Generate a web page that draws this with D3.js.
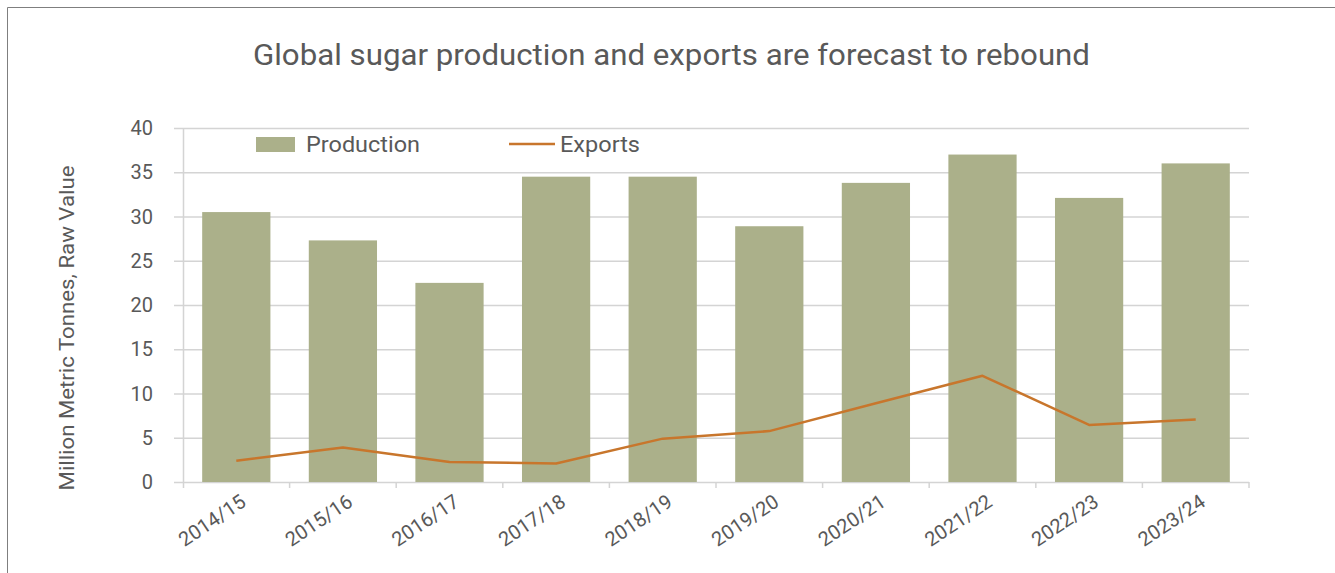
<!DOCTYPE html>
<html><head><meta charset="utf-8">
<script src="https://cdn.jsdelivr.net/npm/d3@7"></script>
<style>
html,body{margin:0;padding:0;background:#fff;}
svg{display:block;font-family:Roboto, "Noto Sans", sans-serif;}
</style></head>
<body>
<svg id="chart" width="1335" height="573"></svg>
<script>
const categories = ["2014/15","2015/16","2016/17","2017/18","2018/19","2019/20","2020/21","2021/22","2022/23","2023/24"];
const production = [30.5, 27.3, 22.5, 34.5, 34.5, 28.9, 33.8, 37.0, 32.1, 36.0];
const exportsVals = [2.4, 3.9, 2.25, 2.1, 4.9, 5.75, 8.9, 12.0, 6.45, 7.05];
const yTicks = [0,5,10,15,20,25,30,35,40];
const title = "Global sugar production and exports are forecast to rebound";
const yLabel = "Million Metric Tonnes, Raw Value";

(function(){
const svg = d3.select("#chart");
const textColor = "#595959";
const gridColor = "#D4D4D4";
const barColor = "#ABB08A";
const lineColor = "#C8762C";

// frame
svg.append("path").attr("d","M7.5,573 V7.5 H1335").attr("fill","none").attr("stroke","#7f7f7f").attr("stroke-width",1);

const pLeft = 183, pRight = 1249, pTop = 128, pBottom = 482;
const x = d3.scaleBand().domain(categories).range([pLeft, pRight]).paddingInner(0.36).paddingOuter(0.18);
const xb = d3.scaleBand().domain(categories).range([pLeft, pRight]);
const y = d3.scaleLinear().domain([0,40]).range([pBottom, pTop]);

// gridlines
svg.append("g").selectAll("line").data(yTicks).join("line")
  .attr("x1", pLeft-9).attr("x2", pRight)
  .attr("y1", d=>y(d)+0.5).attr("y2", d=>y(d)+0.5)
  .attr("stroke", gridColor).attr("stroke-width", 1.5);

// y axis line
svg.append("line").attr("x1",pLeft+0.5).attr("x2",pLeft+0.5).attr("y1",pTop).attr("y2",pBottom+6)
  .attr("stroke",gridColor).attr("stroke-width",1.5);

// x ticks
const tickXs = categories.slice(1).map(d=>xb(d)).concat([pRight]);
svg.append("g").selectAll("line").data(tickXs).join("line")
  .attr("x1", d=>d).attr("x2", d=>d)
  .attr("y1", pBottom).attr("y2", pBottom+6)
  .attr("stroke", gridColor).attr("stroke-width",1.5);

// y tick labels
svg.append("g").selectAll("text").data(yTicks).join("text")
  .attr("x", 153).attr("y", d=>y(d)).attr("dy","0.36em")
  .attr("text-anchor","end").attr("fill",textColor).attr("font-size",20)
  .text(d=>d);

// bars
svg.append("g").selectAll("rect").data(production).join("rect")
  .attr("x",(d,i)=>x(categories[i])).attr("width",x.bandwidth())
  .attr("y",d=>y(d)).attr("height",d=>pBottom-y(d))
  .attr("fill",barColor);

// line
const line = d3.line().x((d,i)=>xb(categories[i])+xb.bandwidth()/2).y(d=>y(d));
svg.append("path").datum(exportsVals).attr("d",line)
  .attr("fill","none").attr("stroke",lineColor).attr("stroke-width",2.5).attr("stroke-linejoin","round");

// x labels
svg.append("g").selectAll("text").data(categories).join("text")
  .attr("transform", d=>`translate(${xb(d)+xb.bandwidth()/2+3},${pBottom+11}) rotate(-34)`)
  .attr("text-anchor","end").attr("dy","0.72em").attr("fill",textColor).attr("font-size",20)
  .text(d=>d);

// title
svg.append("text").attr("x",671.5).attr("y",65).attr("text-anchor","middle")
  .attr("fill",textColor).attr("font-size",30).attr("font-weight",400)
  .attr("textLength",837).attr("lengthAdjust","spacingAndGlyphs").text(title);

// y label
svg.append("text").attr("transform","translate(74,328) rotate(-90)")
  .attr("text-anchor","middle").attr("fill",textColor).attr("font-size",21)
  .attr("textLength",325).attr("lengthAdjust","spacingAndGlyphs").text(yLabel);

// legend
svg.append("rect").attr("x",256).attr("y",137).attr("width",39).attr("height",15).attr("fill",barColor);
svg.append("text").attr("x",306).attr("y",152).attr("fill",textColor).attr("font-size",22)
  .attr("textLength",114).attr("lengthAdjust","spacingAndGlyphs").text("Production");
svg.append("line").attr("x1",509).attr("x2",555).attr("y1",144).attr("y2",144).attr("stroke",lineColor).attr("stroke-width",2.5);
svg.append("text").attr("x",560).attr("y",152).attr("fill",textColor).attr("font-size",22)
  .attr("textLength",80).attr("lengthAdjust","spacingAndGlyphs").text("Exports");
})();
</script>
</body></html>
